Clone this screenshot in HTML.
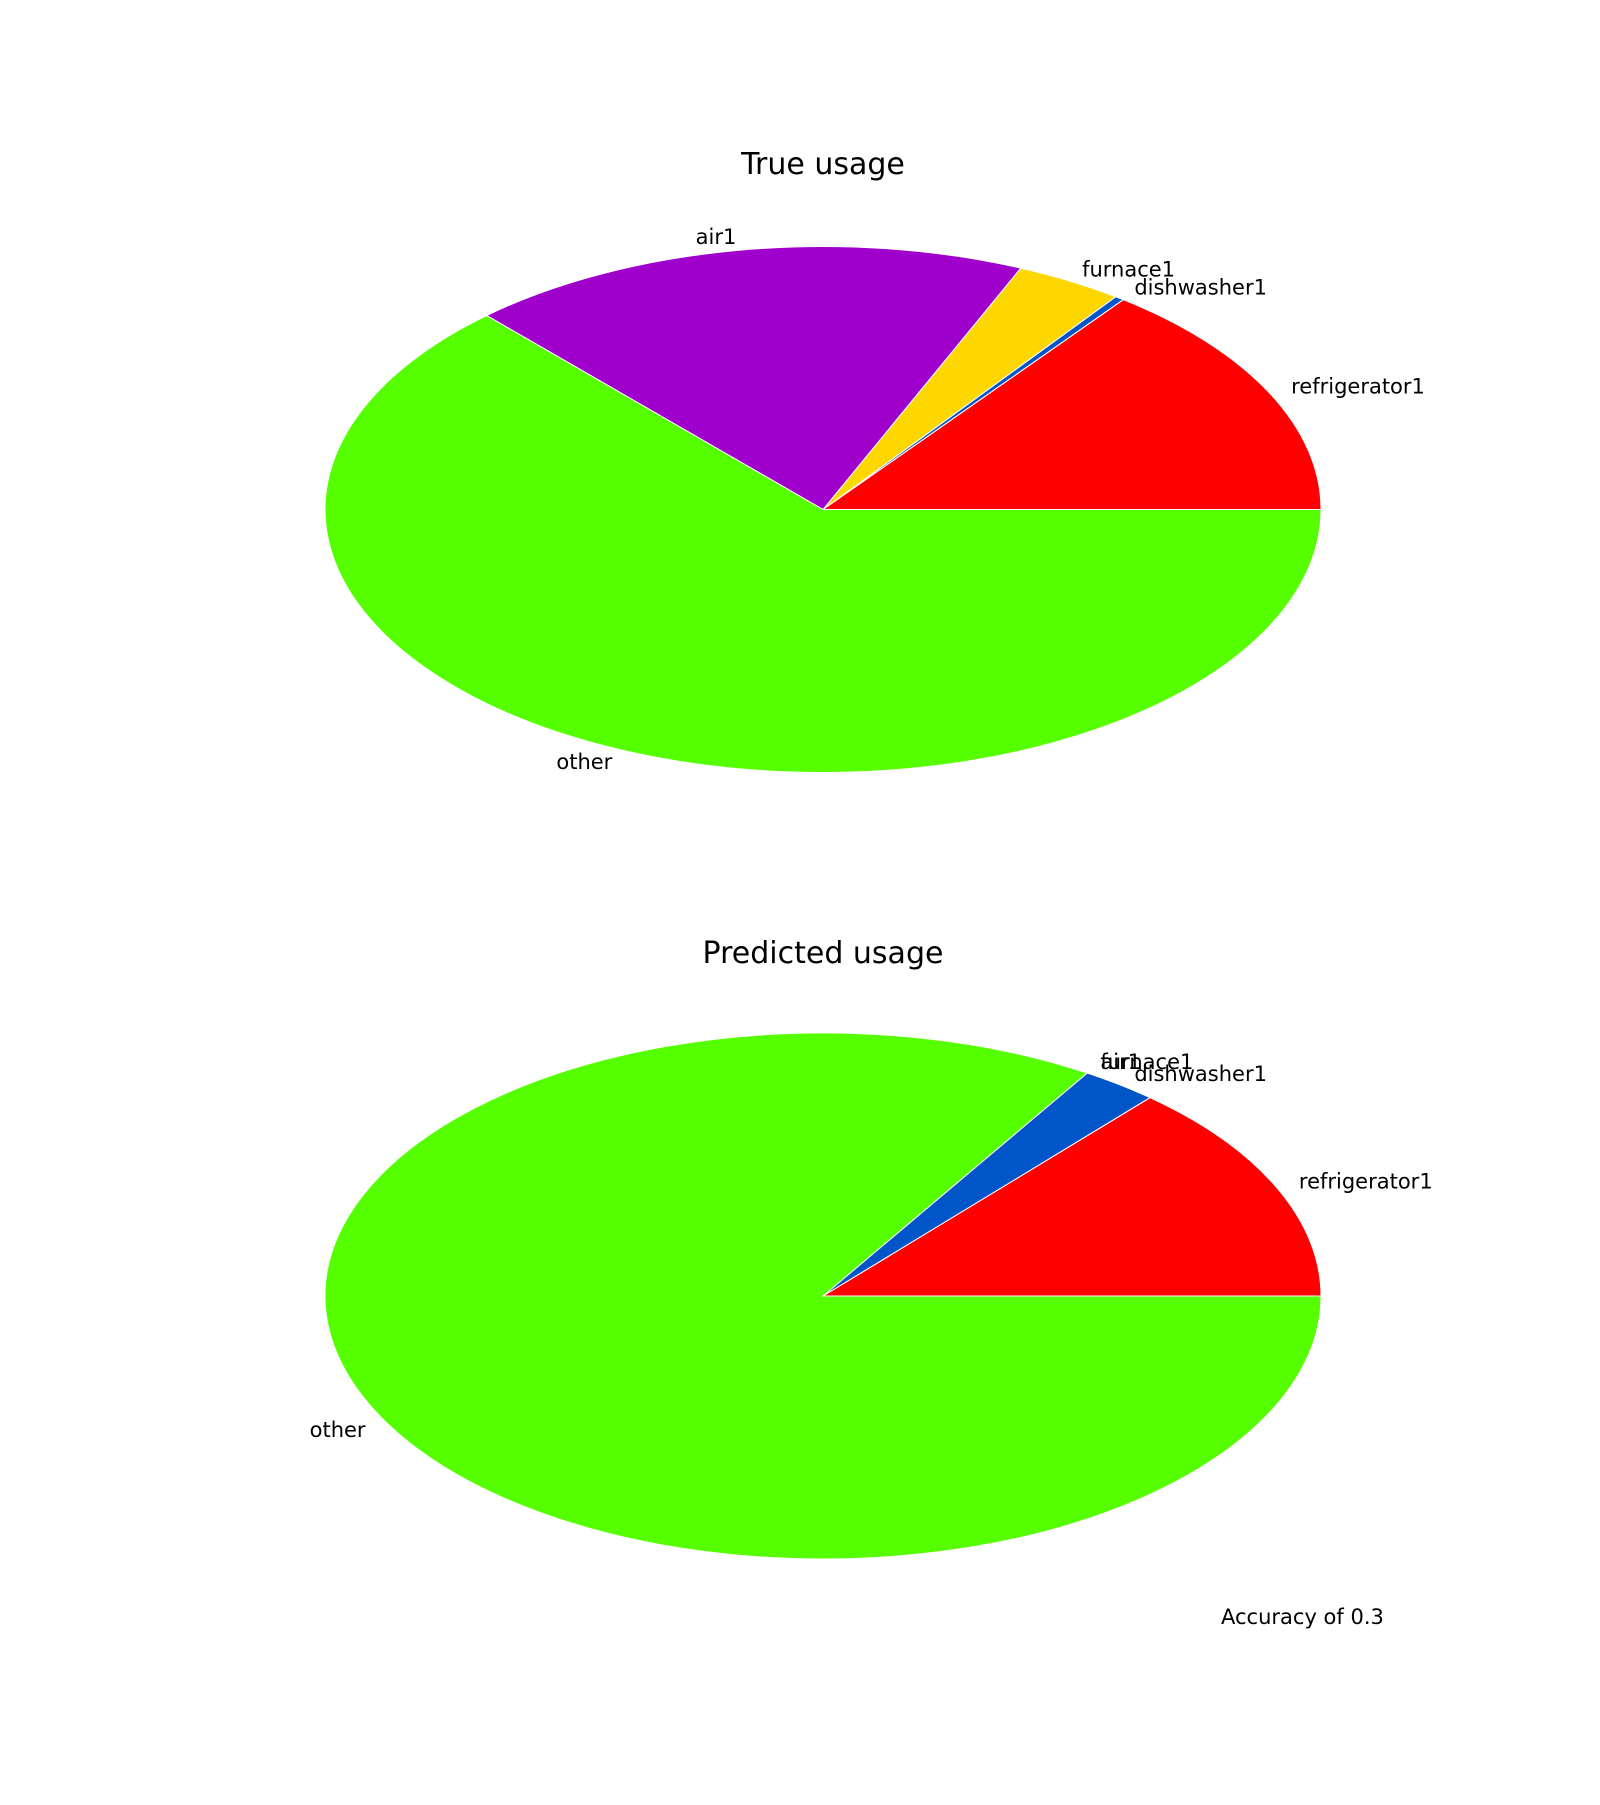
<!DOCTYPE html>
<html><head><meta charset="utf-8"><style>
html,body{margin:0;padding:0;background:#fff;}
svg text{font-family:"DejaVu Sans","Liberation Sans",sans-serif;fill:#000;}
</style></head><body>
<svg id="chart" width="1600" height="1800" viewBox="0 0 1600 1800" xmlns="http://www.w3.org/2000/svg">
<rect width="1600" height="1800" fill="#fff"/>
<text x="823" y="174" font-size="30" text-anchor="middle">True usage</text>
<text x="823" y="963" font-size="30" text-anchor="middle">Predicted usage</text>
<text x="1221" y="1624" font-size="21">Accuracy of 0.3</text>
<g id="pie1"></g>
<g id="pie2"></g>
</svg>
<script>
const categories = ["refrigerator1","dishwasher1","furnace1","air1","other"];
const trueValues = [0.147, 0.003, 0.035, 0.183, 0.632];
const predValues = [0.136, 0.025, 0.0, 0.0, 0.839];
const colors = ["#ff0000","#0055c8","#ffd700","#a000cc","#55ff00"];

const NS = "http://www.w3.org/2000/svg";
function drawPie(gid, values, cx, cy, rx, ry, prefix) {
  const g = document.getElementById(gid);
  const total = values.reduce((a,b)=>a+b,0);
  let start = 0;
  values.forEach((v,i)=>{
    const frac = v/total;
    const a0 = start*2*Math.PI, a1 = (start+frac)*2*Math.PI;
    if (frac > 0) {
      const x0 = cx + rx*Math.cos(a0), y0 = cy - ry*Math.sin(a0);
      const x1 = cx + rx*Math.cos(a1), y1 = cy - ry*Math.sin(a1);
      const large = frac > 0.5 ? 1 : 0;
      const p = document.createElementNS(NS,"path");
      p.setAttribute("d",`M${cx},${cy} L${x0},${y0} A${rx},${ry} 0 ${large} 0 ${x1},${y1} Z`);
      p.setAttribute("fill",colors[i]);
      p.setAttribute("stroke","#fff");
      p.setAttribute("stroke-width","1");
      
      
      g.appendChild(p);
    }
    const am = (a0+a1)/2;
    const lx = cx + 1.05*rx*Math.cos(am), ly = cy - 1.05*ry*Math.sin(am);
    const t = document.createElementNS(NS,"text");
    t.setAttribute("x",lx);
    t.setAttribute("y",ly);
    t.setAttribute("font-size","21");
    t.setAttribute("dominant-baseline","central");
    t.setAttribute("text-anchor", Math.cos(am) >= 0 ? "start" : "end");
    t.textContent = categories[i];
    
    
    g.appendChild(t);
    start += frac;
  });
}
drawPie("pie1", trueValues, 823, 509.5, 498, 263, "true");
drawPie("pie2", predValues, 823, 1296, 498, 263, "pred");
</script>
</body></html>
